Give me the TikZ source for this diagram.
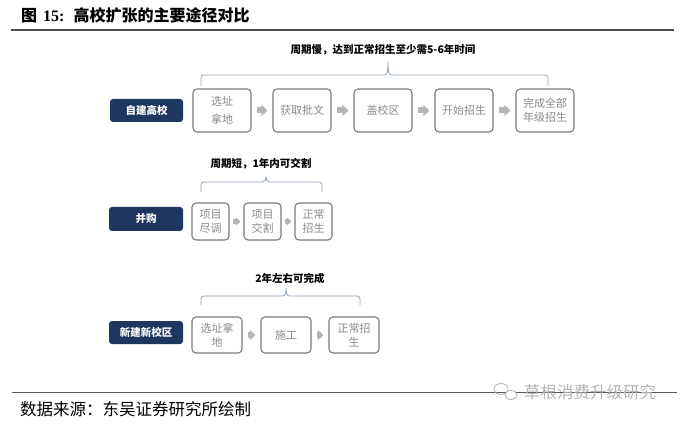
\documentclass[tikz,border=0pt]{standalone}
\usepackage{fontspec}
\setmainfont{Liberation Serif}
\newfontfamily\cjk{Noto Sans CJK SC}
\usetikzlibrary{arrows.meta}
\definecolor{navy}{HTML}{1E375F}
\definecolor{boxline}{HTML}{7A7A7A}
\definecolor{boxtext}{HTML}{8A8A8A}
\definecolor{arrgray}{HTML}{B5B5B5}
\definecolor{bracecol}{HTML}{90A2BC}
\definecolor{wmark}{HTML}{B4B4B4}
\newcommand\mybrace[6]{%
  \draw[bracestyle] (#1,#4) -- (#1,{#5+3}) to[out=90,in=180] ({#1+3},#5)
    -- ({#3-4},#5) .. controls ({#3-1},#5) and (#3,{#5-2}) .. (#3,#6)
    .. controls (#3,{#5-2}) and ({#3+1},#5) .. ({#3+4},#5)
    -- ({#2-3},#5) to[out=0,in=90] (#2,{#5+3}) -- (#2,#4);}
\tikzset{
  lab/.style={fill=navy, rounded corners=3pt, inner sep=0pt, text=white,
    font=\cjk\bfseries\fontsize{10.5}{12}\selectfont},
  stepbox/.style={draw=boxline, line width=1.1pt, rounded corners=4pt, fill=white,
    inner sep=0pt, text=boxtext, align=center,
    font=\cjk\fontsize{11}{14.5}\selectfont},
  bracestyle/.style={draw=bracecol, line width=0.8pt},
  bracelab/.style={font=\cjk\bfseries\fontsize{10.5}{12}\selectfont, text=black},
  barrA/.style={draw=arrgray, line width=6pt, shorten <=5pt, shorten >=5pt,
    -{Triangle[width=11pt,length=6pt]}},
  barrB/.style={draw=arrgray, line width=4.5pt, shorten <=3pt, shorten >=3pt,
    -{Triangle[width=8pt,length=4.5pt]}},
  barrC/.style={draw=arrgray, line width=5.5pt, shorten <=5pt, shorten >=5pt,
    -{Triangle[width=10pt,length=5.5pt]}},
}
\begin{document}
\begin{tikzpicture}[x=1pt,y=-1pt]
\useasboundingbox (0,0) rectangle (695,427);
% title
\node[anchor=west, inner sep=0pt, text=black] (title) at (21,15)
  {\cjk\bfseries\fontsize{16}{18}\selectfont 图\hspace{6pt}{\rmfamily\bfseries 15:}\hspace{9pt}高校扩张的主要途径对比};
\draw[draw=black!70, line width=2pt] (11,30) -- (674,30);

% row 1
\node[lab, minimum width=73pt, minimum height=23pt] (l1) at (146.5,110.5) {自建高校};
\node[stepbox, minimum width=58pt, minimum height=43pt] (a1) at (222,110.5) {选址\\[4pt]拿地};
\node[stepbox, minimum width=58pt, minimum height=43pt] (a2) at (302,110.5) {获取批文};
\node[stepbox, minimum width=58pt, minimum height=43pt] (a3) at (383,110.5) {盖校区};
\node[stepbox, minimum width=58pt, minimum height=43pt] (a4) at (464,110.5) {开始招生};
\node[stepbox, minimum width=58pt, minimum height=43pt] (a5) at (545,110.5) {完成全部\\年级招生};
\draw[barrA] (a1) -- (a2);
\draw[barrA] (a2) -- (a3);
\draw[barrA] (a3) -- (a4);
\draw[barrA] (a4) -- (a5);
\mybrace{201}{548}{388}{86}{75}{62}
\node[bracelab] (t1) at (383,50) {周期慢，达到正常招生至少需5-6年时间};

% row 2
\node[lab, minimum width=74pt, minimum height=24pt] (l2) at (146,219) {并购};
\node[stepbox, minimum width=37pt, minimum height=37pt] (b1) at (210.5,221.5) {项目\\尽调};
\node[stepbox, minimum width=37pt, minimum height=37pt] (b2) at (262.5,221.5) {项目\\交割};
\node[stepbox, minimum width=37pt, minimum height=37pt] (b3) at (313.5,221.5) {正常\\招生};
\draw[barrB] (b1) -- (b2);
\draw[barrB] (b2) -- (b3);
\mybrace{201}{322}{266}{192}{182}{177}
\node[bracelab] (t2) at (261,164) {周期短，1年内可交割};

% row 3
\node[lab, minimum width=74pt, minimum height=23pt] (l3) at (146,332.5) {新建新校区};
\node[stepbox, minimum width=50pt, minimum height=36pt] (c1) at (217,335) {选址拿\\地};
\node[stepbox, minimum width=50pt, minimum height=36pt] (c2) at (286,335) {施工};
\node[stepbox, minimum width=50pt, minimum height=36pt] (c3) at (354,335) {正常招\\生};
\draw[barrC] (c1) -- (c2);
\draw[barrC] (c2) -- (c3);
\mybrace{201}{360}{286}{305}{296}{288}
\node[bracelab] (t3) at (290,278) {2年左右可完成};

% footer
\draw[draw=black!65, line width=1pt] (12,392) -- (677,392);
\node[anchor=west, inner sep=0pt, text=black] (src) at (20,409)
  {\cjk\fontsize{16.5}{18}\selectfont 数据来源：东吴证券研究所绘制};
% watermark
\draw[draw=wmark, line width=0.8pt] (501,389) ellipse [x radius=7pt, y radius=5.5pt];
\draw[draw=wmark, line width=0.8pt, fill=white] (511,395) ellipse [x radius=6pt, y radius=4.5pt];
\node[anchor=west, inner sep=0pt, text=wmark] (wm) at (524,392)
  {\cjk\fontsize{16.5}{18}\selectfont 草根消费升级研究};
\end{tikzpicture}
\end{document}
